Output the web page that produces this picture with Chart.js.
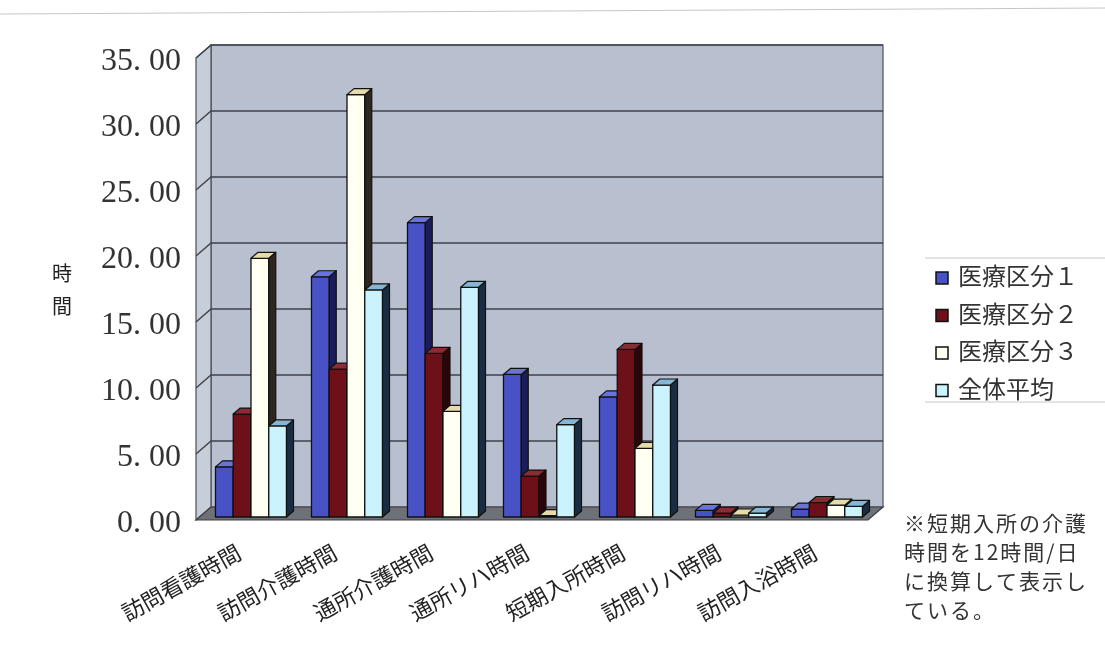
<!DOCTYPE html>
<html>
<head>
<meta charset="utf-8">
<script src="https://cdn.jsdelivr.net/npm/chart.js@4/dist/chart.umd.min.js"></script>
<style>
  html, body { margin: 0; padding: 0; background: #fff; }
  #wrap { width: 1105px; height: 649px; position: relative; }
</style>
</head>
<body>
<div id="wrap"><canvas id="c" width="1105" height="649"></canvas></div>
<script>
// Categories and series (hours per service)
const categories = ['訪問看護時間', '訪問介護時間', '通所介護時間', '通所リハ時間', '短期入所時間', '訪問リハ時間', '訪問入浴時間'];
const seriesNames = ['医療区分１', '医療区分２', '医療区分３', '全体平均'];
const kubun1 = [3.8, 18.2, 22.3, 10.8, 9.1, 0.5, 0.6];
const kubun2 = [7.8, 11.2, 12.4, 3.1, 12.7, 0.3, 1.1];
const kubun3 = [19.6, 32.0, 8.0, 0.1, 5.2, 0.15, 0.9];
const zentai = [6.9, 17.2, 17.4, 7.0, 10.0, 0.3, 0.8];
const yTicks = [0, 5, 10, 15, 20, 25, 30, 35];
const noteLines = ['※短期入所の介護', '時間を12時間/日', 'に換算して表示し', 'ている。'];
const yTitle = ['時', '間'];

// Face colours: front, side, top
const fronts = ['#4852c6', '#6e1018', '#fffff2', '#c9f3ff'];
const sides  = ['#1a1e58', '#2a0608', '#2e2620', '#1c2c40'];
const tops   = ['#6a74d6', '#8c2c32', '#e6dcaa', '#86b6d4'];

const seriesValues = [kubun1, kubun2, kubun3, zentai];

// Perspective offsets
const BAR_DX = 7, BAR_DY = -6;       // depth of each column
const WALL_DX = 8, WALL_DY = -10;    // back wall relative to column plane
const FRONT_DX = -7, FRONT_DY = 3;   // front edge relative to column plane

function poly(ctx, pts, fill, stroke, lw) {
  ctx.beginPath();
  ctx.moveTo(pts[0][0], pts[0][1]);
  for (let i = 1; i < pts.length; i++) ctx.lineTo(pts[i][0], pts[i][1]);
  ctx.closePath();
  if (fill) { ctx.fillStyle = fill; ctx.fill(); }
  if (stroke) { ctx.strokeStyle = stroke; ctx.lineWidth = lw || 1; ctx.stroke(); }
}

const box3d = {
  id: 'box3d',
  beforeDatasetsDraw(chart) {
    const { ctx, chartArea: a, scales } = chart;
    const ys = scales.y;
    const bl = a.left + WALL_DX, br = a.right + WALL_DX, bt = a.top + WALL_DY, bb = a.bottom + WALL_DY;
    const fl = a.left + FRONT_DX, fr = a.right + FRONT_DX, ft = a.top + FRONT_DY, fb = a.bottom + FRONT_DY;
    ctx.save();
    // back wall
    poly(ctx, [[bl, bt], [br, bt], [br, bb], [bl, bb]], '#b8c0d0', '#4a4e58', 1.2);
    // left side wall
    poly(ctx, [[fl, ft], [bl, bt], [bl, bb], [fl, fb]], '#c8ced9', '#4a4e58', 1.2);
    // floor
    poly(ctx, [[fl, fb], [fr, fb], [br, bb], [bl, bb]], '#6e7177', '#3c3e44', 1.2);
    // gridlines on back and side walls
    ctx.strokeStyle = '#3e424c';
    ctx.lineWidth = 1.4;
    yTicks.forEach(v => {
      if (v === 0) return;
      const p = ys.getPixelForValue(v);
      ctx.beginPath();
      ctx.moveTo(fl, p + FRONT_DY);
      ctx.lineTo(bl, p + WALL_DY);
      ctx.lineTo(br, p + WALL_DY);
      ctx.stroke();
    });
    ctx.restore();
  },
  // columns are drawn left to right so each one hides the side of its neighbour
  afterDatasetsDraw(chart) {
    const { ctx } = chart;
    ctx.save();
    ctx.lineJoin = 'round';
    const metas = chart.data.datasets.map((d, i) => chart.getDatasetMeta(i));
    categories.forEach((c, j) => {
      metas.forEach((meta, i) => {
        const el = meta.data[j];
        const p = el.getProps(['x', 'y', 'base', 'width'], true);
        const l = p.x - p.width / 2, r = p.x + p.width / 2;
        const top = Math.min(p.y, p.base), bot = Math.max(p.y, p.base);
        poly(ctx, [[l, top], [r, top], [r, bot], [l, bot]], fronts[i], '#111', 1.3);
        poly(ctx, [[r, top], [r + BAR_DX, top + BAR_DY], [r + BAR_DX, bot + BAR_DY], [r, bot]], sides[i], '#111', 1.2);
        poly(ctx, [[l, top], [l + BAR_DX, top + BAR_DY], [r + BAR_DX, top + BAR_DY], [r, top]], tops[i], '#111', 1.2);
      });
    });
    ctx.restore();
  },
  afterDraw(chart) {
    const { ctx } = chart;
    ctx.save();
    // faint rule across the top
    ctx.strokeStyle = 'rgba(150,150,150,0.55)';
    ctx.lineWidth = 1;
    ctx.beginPath(); ctx.moveTo(0, 14); ctx.lineTo(1105, 8); ctx.stroke();

    // axis title
    ctx.fillStyle = '#222';
    ctx.font = '20px "Noto Sans CJK JP"';
    ctx.textAlign = 'center';
    ctx.textBaseline = 'middle';
    yTitle.forEach((t, k) => ctx.fillText(t, 62, 273 + k * 33));

    // legend
    const lx = 925, ly0 = 258, ly1 = 402;
    ctx.strokeStyle = '#c8c8c8';
    ctx.lineWidth = 1;
    ctx.beginPath(); ctx.moveTo(lx, ly0); ctx.lineTo(1105, ly0); ctx.stroke();
    ctx.beginPath(); ctx.moveTo(lx, ly1); ctx.lineTo(1105, ly1); ctx.stroke();
    ctx.font = '24px "Liberation Serif", "Noto Sans CJK JP"';
    ctx.textAlign = 'left';
    chart.data.datasets.forEach((ds, k) => {
      const cy = 278 + k * 37.5;
      ctx.fillStyle = fronts[k];
      ctx.fillRect(936, cy - 6, 12, 12);
      ctx.strokeStyle = '#111';
      ctx.lineWidth = 1.5;
      ctx.strokeRect(936, cy - 6, 12, 12);
      ctx.fillStyle = '#333';
      ctx.fillText(ds.label, 958, cy + 1);
    });

    // footnote
    ctx.font = '21px "Noto Sans CJK JP"';
    ctx.fillStyle = '#333';
    ctx.letterSpacing = '2px';
    noteLines.forEach((t, k) => ctx.fillText(t, 904, 523 + k * 29));
    ctx.restore();
  }
};

new Chart(document.getElementById('c'), {
  type: 'bar',
  data: {
    labels: categories,
    datasets: seriesNames.map((name, i) => ({
      label: name,
      data: seriesValues[i],
      // faces are painted by the box3d plugin
      backgroundColor: 'rgba(0,0,0,0)',
      borderWidth: 0,
      barPercentage: 1,
      categoryPercentage: 0.74
    }))
  },
  options: {
    responsive: false,
    animation: false,
    devicePixelRatio: 1,
    layout: { padding: { top: 55, right: 230, left: 0, bottom: 0 } },
    plugins: { legend: { display: false }, tooltip: { enabled: false } },
    scales: {
      x: {
        grid: { display: false, drawTicks: false },
        border: { display: false },
        ticks: {
          autoSkip: false,
          minRotation: 29,
          maxRotation: 29,
          padding: 22,
          labelOffset: -12,
          color: '#222',
          font: { family: '"Noto Sans CJK JP"', size: 22 }
        },
        afterFit(s) { s.height = 132; }
      },
      y: {
        min: 0,
        max: 35,
        grid: { display: false, drawTicks: false },
        border: { display: false },
        ticks: {
          stepSize: 5,
          padding: 22,
          labelOffset: 7,
          color: '#333',
          font: { family: '"Liberation Serif"', size: 32 },
          callback: v => v.toFixed(2).replace('.', '. ')
        },
        afterFit(s) { s.width = 203; }
      }
    }
  },
  plugins: [box3d]
});
</script>
</body>
</html>
